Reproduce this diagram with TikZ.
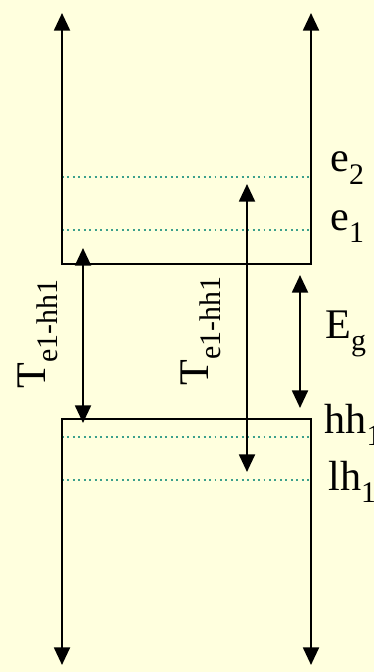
\documentclass[tikz,border=0pt]{standalone}
\usepackage{fontspec}
\setmainfont{Liberation Serif}
\usetikzlibrary{arrows.meta}
\definecolor{PaleYellow}{RGB}{255,255,222}
\definecolor{LevelTeal}{RGB}{60,160,140}
\newcommand{\lowsub}[1]{\raisebox{-0.3em}{\fontsize{17}{18}\selectfont #1}}
\tikzset{
  wall/.style={draw=black,line width=1.4pt},
  up/.style={wall,-{Triangle[width=9pt,length=10pt]}},
  both/.style={wall,{Triangle[width=9pt,length=10pt]}-{Triangle[width=9pt,length=10pt]}},
  level/.style={draw=LevelTeal,line width=1.1pt,dotted},
  lbl/.style={font=\fontsize{24}{26}\selectfont,inner sep=0pt,anchor=base west},
}

\begin{document}
\begin{tikzpicture}[x=0.02cm,y=-0.02cm]
\useasboundingbox[fill=PaleYellow] (0,0) rectangle (374,672);
% conduction band
\coordinate (cbL) at (62,264);
\coordinate (cbR) at (311,264);
\coordinate (cbLtop) at (62,13);
\coordinate (cbRtop) at (311,13);
% valence band
\coordinate (vbL) at (62,419);
\coordinate (vbR) at (311,419);
\coordinate (vbLbot) at (62,665);
\coordinate (vbRbot) at (311,665);
% levels
\coordinate (e2L) at (62,177);
\coordinate (e2R) at (311,177);
\coordinate (e1L) at (62,230);
\coordinate (e1R) at (311,230);
\coordinate (hhL) at (62,437);
\coordinate (hhR) at (311,437);
\coordinate (lhL) at (62,480);
\coordinate (lhR) at (311,480);
\draw[level] (e2L) -- (e2R);
\draw[level] (e1L) -- (e1R);
\draw[level] (hhL) -- (hhR);
\draw[level] (lhL) -- (lhR);
\draw[up] (cbR) -- (cbL) -- (cbLtop);
\draw[up] (cbL) -- (cbR) -- (cbRtop);
\draw[up] (vbR) -- (vbL) -- (vbLbot);
\draw[up] (vbL) -- (vbR) -- (vbRbot);
% transitions
\coordinate (t1a) at (83,248);
\coordinate (t1b) at (83,423);
\coordinate (t2a) at (247,184);
\coordinate (t2b) at (247,472);
\coordinate (ga) at (300,275);
\coordinate (gb) at (300,408);
\draw[both] (t1a) -- (t1b);
\draw[both] (t2a) -- (t2b);
\draw[both] (ga) -- (gb);
% labels
\node[lbl] (le2) at (330,172) {e\lowsub{2}};
\node[lbl] (le1) at (330,230) {e\lowsub{1}};
\node[lbl] (lEg) at (325,338) {E\lowsub{g}};
\node[lbl] (lhh) at (324,433) {hh\lowsub{1}};
\node[lbl] (llh) at (328,490) {lh\lowsub{1}};
\node[lbl,rotate=90] (lt1) at (45,389) {T\lowsub{e1-hh1}};
\node[lbl,rotate=90] (lt2) at (208,386) {T\lowsub{e1-hh1}};
\end{tikzpicture}
\end{document}
